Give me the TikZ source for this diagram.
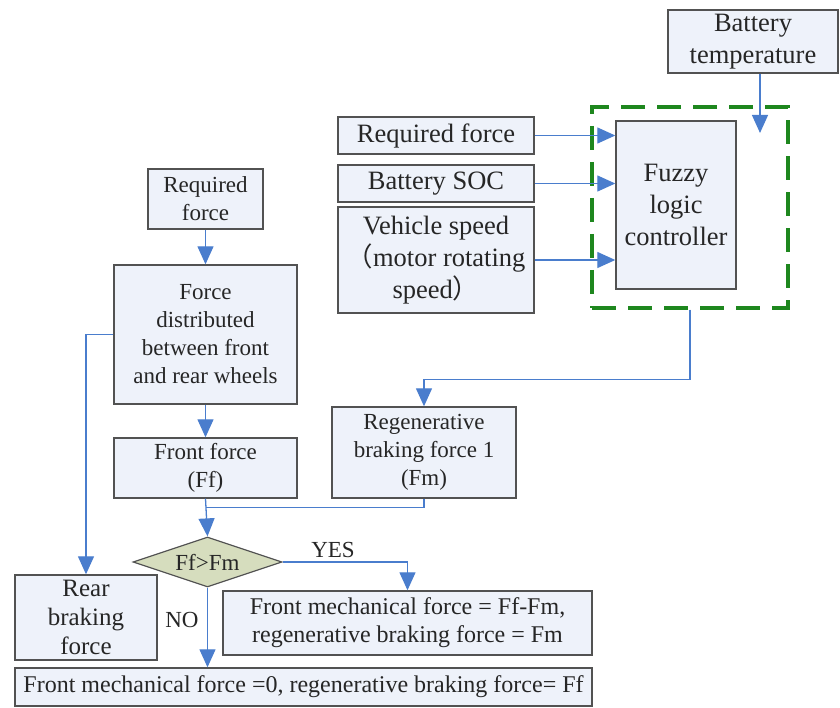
\documentclass[tikz,border=0pt]{standalone}
\usepackage{fontspec}
\setmainfont{Liberation Serif}
\newfontfamily\cjk{Noto Sans CJK SC}
\usetikzlibrary{arrows.meta,shapes.geometric}
\definecolor{boxfill}{RGB}{238,242,250}
\definecolor{boxline}{RGB}{82,82,82}
\definecolor{flowblue}{RGB}{74,125,205}
\definecolor{decfill}{RGB}{214,221,190}
\definecolor{flsgreen}{RGB}{30,135,30}

\begin{document}
\begin{tikzpicture}[
  x=1pt, y=1pt,
  block/.style={rectangle, draw=boxline, line width=1.4pt, fill=boxfill, align=center, inner sep=2pt, text=black!85, font=\fontsize{23}{28}\selectfont},
  inbox/.style={block, font=\fontsize{26.5}{32}\selectfont},
  resultbox/.style={block, font=\fontsize{24}{28}\selectfont},
  decision/.style={diamond, draw=boxline, line width=1.2pt, fill=decfill, aspect=3, inner sep=0pt, text=black!85, font=\fontsize{23}{28}\selectfont},
  flsbox/.style={rectangle, draw=flsgreen, line width=3.5pt, dash pattern=on 24pt off 12pt},
  arrow/.style={-{Triangle[length=18pt,width=16pt]}, line width=1.3pt, draw=flowblue},
  link/.style={line width=1.3pt, draw=flowblue},
  tag/.style={inner sep=0pt, text=black!85, font=\fontsize{23}{28}\selectfont}
]
\useasboundingbox (0,0) rectangle (840,707);
\def\xLeft{205.5}
\def\xInputs{436}
% fuzzy logic part
\node[flsbox, minimum width=196pt, minimum height=201pt] (fls) at (690,499.5) {};
\node[inbox, minimum width=170pt, minimum height=63pt] (battemp) at (753,665.5) {Battery\\temperature};
\node[inbox, minimum width=196pt, minimum height=37pt] (reqR) at (\xInputs,571.5) {Required force};
\node[inbox, minimum width=196pt, minimum height=37pt] (soc) at (\xInputs,523.5) {Battery SOC};
\node[inbox, minimum width=196pt, minimum height=106pt] (speed) at (\xInputs,447) {Vehicle speed\\{\cjk （}motor rotating\\speed{\cjk ）}};
\node[inbox, minimum width=120pt, minimum height=168pt] (fuzzy) at (676,502) {Fuzzy\\logic\\controller};
\coordinate (tempin) at (760,574);
% force distribution part
\node[block, minimum width=115pt, minimum height=60pt] (reqL) at (\xLeft,508) {Required\\force};
\node[block, minimum width=183pt, minimum height=139pt] (dist) at (\xLeft,372.5) {Force\\distributed\\between front\\and rear wheels};
\node[block, minimum width=183pt, minimum height=60pt] (front) at (\xLeft,239) {Front force\\(Ff)};
\node[block, minimum width=184pt, minimum height=91pt] (regen) at (424,254.5) {Regenerative\\braking force 1\\(Fm)};
\node[decision, minimum width=149pt, minimum height=50pt] (dec) at (207.5,145) {Ff>Fm};
\node[resultbox, font=\fontsize{25}{29}\selectfont, minimum width=142pt, minimum height=85pt] (rear) at (86,89.5) {Rear\\braking\\force};
\node[resultbox, minimum width=369pt, minimum height=64pt] (mechY) at (407.5,84) {Front mechanical force = Ff-Fm,\\regenerative braking force = Fm};
\node[resultbox, minimum width=577pt, minimum height=38pt] (mechN) at (303.5,20) {Front mechanical force =0, regenerative braking force= Ff};
\node[tag] (yes) at (333,157) {YES};
\node[tag] (no) at (182,87) {NO};
% connectors
\draw[arrow] (reqR) -- (reqR -| fuzzy.west);
\draw[arrow] (soc) -- (soc -| fuzzy.west);
\draw[arrow] (speed) -- (speed -| fuzzy.west);
\draw[arrow] (battemp.south -| tempin) -- (tempin);
\draw[arrow] (fls.south) -- ++(0,-70) -| (regen.north);
\draw[arrow] (reqL) -- (dist);
\draw[arrow] (dist) -- (front);
\draw[arrow] (dist.west) -| (rear.north);
\draw[arrow] (front.south) -- (dec.north);
\draw[link] (regen.south) |- ([yshift=-9pt]front.south);
\draw[arrow] (dec.east) -| (mechY.north);
\draw[arrow] (dec.south) -- (dec.south |- mechN.north);
\end{tikzpicture}
\end{document}
